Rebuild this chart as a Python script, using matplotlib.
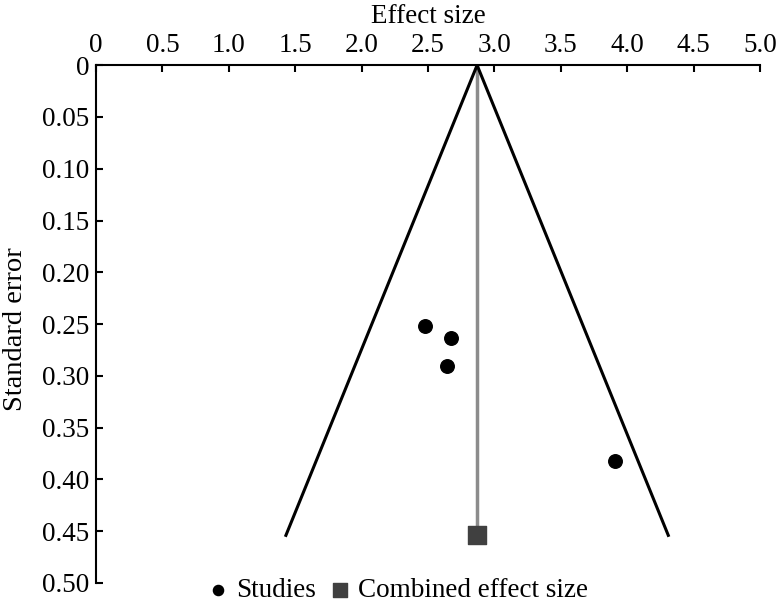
import matplotlib.pyplot as plt

# Données
study_effect = [2.48, 2.67, 2.64, 3.91]
study_se = [0.252, 0.263, 0.290, 0.382]
combined_effect = 2.87
se_max = 0.454
funnel_left = 1.43
funnel_right = 4.31

xticks = [0, 0.5, 1.0, 1.5, 2.0, 2.5, 3.0, 3.5, 4.0, 4.5, 5.0]
xtick_labels = ['0', '0.5', '1.0', '1.5', '2.0', '2.5', '3.0', '3.5', '4.0', '4.5', '5.0']
yticks = [0, 0.05, 0.10, 0.15, 0.20, 0.25, 0.30, 0.35, 0.40, 0.45, 0.50]
ytick_labels = ['0', '0.05', '0.10', '0.15', '0.20', '0.25', '0.30', '0.35', '0.40', '0.45', '0.50']

plt.rcParams['font.family'] = ['Liberation Serif', 'DejaVu Serif']
plt.rcParams['font.size'] = 19.5

fig = plt.figure(figsize=(7.77, 6.09), dpi=100)
ax = fig.add_axes([0.1236, 0.0427, 0.978 - 0.1236, 0.893 - 0.0427])

# Entonnoir
ax.plot([funnel_left, combined_effect, funnel_right], [se_max, 0, se_max],
        color='black', lw=2.2, zorder=2)
ax.plot([combined_effect, combined_effect], [0, se_max], color='#8c8c8c', lw=2.5, zorder=1)

ax.scatter(study_effect, study_se, s=95, color='black', zorder=3, label='Studies')
ax.scatter([combined_effect], [se_max], s=170, marker='s', color='#404040', zorder=3,
           label='Combined effect size')

ax.set_xlim(0, 5.0)
ax.set_ylim(0.50, 0)
ax.xaxis.tick_top()
ax.xaxis.set_label_position('top')
ax.set_xticks(xticks)
ax.set_xticklabels(xtick_labels)
ax.set_yticks(yticks)
ax.set_yticklabels(ytick_labels)
ax.tick_params(axis='both', direction='in', length=5, width=1.5, pad=5)
ax.set_xlabel('Effect size')
ax.xaxis.set_label_coords(0.5, 1.082)
ax.set_ylabel('Standard error', fontsize=20.5)
ax.yaxis.set_label_coords(-0.103, 0.49)

for side in ['right', 'bottom']:
    ax.spines[side].set_visible(False)
for side in ['left', 'top']:
    ax.spines[side].set_linewidth(1.5)

fig.legend(loc='lower center', bbox_to_anchor=(0.51, -0.03), ncol=2, frameon=False,
           handletextpad=0.15, columnspacing=0.4, markerscale=0.75, handlelength=1.0)

plt.savefig('out.png', dpi=100)
